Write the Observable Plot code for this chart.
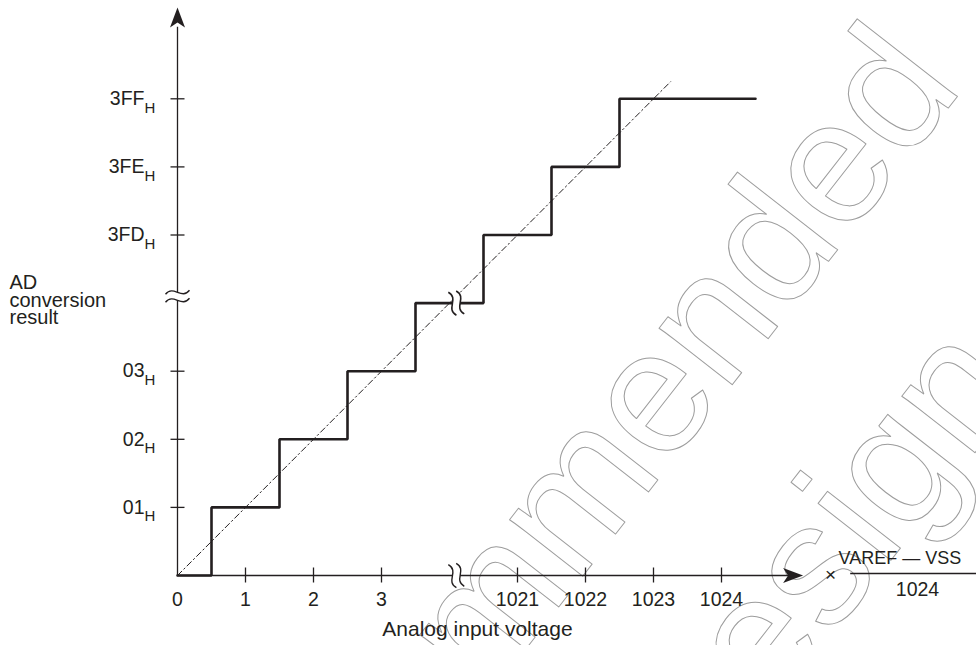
<!DOCTYPE html>
<html>
<head>
<meta charset="utf-8">
<script src="https://cdn.jsdelivr.net/npm/d3@7"></script>
<script src="https://cdn.jsdelivr.net/npm/@observablehq/plot@0.6"></script>
<style>
  html, body { margin: 0; padding: 0; background: #fff; }
  #chart { width: 976px; height: 645px; overflow: hidden; }
</style>
</head>
<body>
<div id="chart"></div>
<script>
// ---- data ----
const xTickValues = [1, 2, 3, 1021, 1022, 1023, 1024];
const xLabelValues = [0, 1, 2, 3, 1021, 1022, 1023, 1024];
const xLabels = ["0", "1", "2", "3", "1021", "1022", "1023", "1024"];
const yTickValues = [1, 2, 3, 1021, 1022, 1023];
const yLabels = ["01", "02", "03", "3FD", "3FE", "3FF"];
// staircase: input voltage (LSB) where the code changes, and the code after it
const stairX = [0, 0.5, 1.5, 2.5, 3.5, 1020.5, 1021.5, 1022.5, 1024.5];
const stairY = [0, 1, 2, 3, 4, 1021, 1022, 1023, 1023];
// ideal conversion line
const idealX = [0, 1023.25];
const idealY = [0, 1023.25];
const breakValue = 1020.1;
const yTitleLines = ["AD", "conversion", "result"];
const watermark = ["Not recommended", "for new design"];

const ink = "#231f20";

// ---- custom symbols (pixel-sized decorations) ----
const arrowUp = {draw(c) { c.moveTo(0, 0); c.lineTo(7.5, 20); c.lineTo(0, 15); c.lineTo(-7.5, 20); c.closePath(); }};
const hTick = {draw(c) { c.moveTo(-7, 0); c.lineTo(7, 0); }};
const vTick = {draw(c) { c.moveTo(0, -8); c.lineTo(0, 7); }};
function wave(c, y0, back) {
  if (!back) { c.moveTo(-12, y0 + 2); c.bezierCurveTo(-4, y0 - 8, 4, y0 + 8, 12, y0 - 2); }
  else { c.lineTo(12, y0 - 2); c.bezierCurveTo(4, y0 + 8, -4, y0 - 8, -12, y0 + 2); }
}
const breakFill = {draw(c) { wave(c, -4, false); wave(c, 4, true); c.closePath(); }};
const breakLines = {draw(c) { wave(c, -4, false); wave(c, 4, false); }};

const font = "Liberation Sans, Arial, Helvetica, sans-serif";
const wmStyle = {text: d => d, rotate: -52, textAnchor: "end", lineAnchor: "bottom", fontSize: 175,
  fill: "none", stroke: "#9d9d9d", strokeWidth: 1, frameAnchor: "top-left"};

const plot = Plot.plot({
  width: 976,
  height: 645,
  margin: 0,
  x: {type: "linear", domain: [0, 4, 1020, 1026], range: [177, 449, 449, 857], axis: null},
  y: {type: "linear", domain: [0, 4, 1020, 1025], range: [575, 302.6, 302.6, -37.9], axis: null},
  style: {fontFamily: font, color: ink, background: "#fff", overflow: "visible"},
  marks: [
    // watermark (outlined text)
    Plot.text([watermark[0]], {...wmStyle, dx: 964, dy: 87}),
    Plot.text([watermark[1]], {...wmStyle, dx: 1027, dy: 385}),

    // ideal line
    Plot.line(idealX, {x: idealX, y: idealY, stroke: ink, strokeWidth: 1, strokeDasharray: "6,3,1.5,3"}),

    // axes
    Plot.ruleX([0], {y1: 0, y2: 1024.05, stroke: ink, strokeWidth: 1.3}),
    Plot.ruleY([0], {x1: 0, x2: 1025, stroke: ink, strokeWidth: 1.3}),
    Plot.dot(yTickValues, {x: 0, y: d => d, symbol: hTick, fill: "none", stroke: ink, strokeWidth: 1.3}),
    Plot.dot(xTickValues, {x: d => d, y: 0, symbol: vTick, fill: "none", stroke: ink, strokeWidth: 1.3}),

    // staircase
    Plot.line(stairX, {x: stairX, y: stairY, curve: "step-after", stroke: ink, strokeWidth: 2.6, strokeLinejoin: "miter"}),

    // axis breaks
    Plot.dot([0], {x: 0, y: breakValue, symbol: breakFill, fill: "#fff", stroke: "none"}),
    Plot.dot([0], {x: 0, y: breakValue, symbol: breakLines, fill: "none", stroke: ink, strokeWidth: 1.4}),
    Plot.dot([0], {x: breakValue, y: 0, symbol: breakFill, rotate: 80, fill: "#fff", stroke: "none"}),
    Plot.dot([0], {x: breakValue, y: 0, symbol: breakLines, rotate: 80, fill: "none", stroke: ink, strokeWidth: 1.4}),
    Plot.dot([0], {x: breakValue, y: 1020, symbol: breakFill, rotate: 80, fill: "#fff", stroke: "none"}),
    Plot.dot([0], {x: breakValue, y: 1020, symbol: breakLines, rotate: 80, fill: "none", stroke: ink, strokeWidth: 1.6}),

    // arrowheads
    Plot.dot([0], {x: 0, y: 1024.34, symbol: arrowUp, fill: ink, stroke: "none"}),
    Plot.dot([0], {x: 1025.2, y: 0, symbol: arrowUp, rotate: 90, fill: ink, stroke: "none"}),

    // tick labels
    Plot.text(yTickValues, {x: 0, y: d => d, text: (d, i) => yLabels[i], textAnchor: "end", dx: -33, fontSize: 19.5, fill: ink}),
    Plot.text(yTickValues, {x: 0, y: d => d, text: () => "H", textAnchor: "start", dx: -33, dy: 9, fontSize: 15, fill: ink}),
    Plot.text(xLabelValues, {x: d => d, y: 0, text: (d, i) => xLabels[i], dy: 24, fontSize: 19.5, fill: ink}),

    // axis titles
    Plot.text(["Analog input voltage"], {frameAnchor: "top-left", dx: 477, dy: 635, text: d => d,
      textAnchor: "middle", lineAnchor: "bottom", fontSize: 21, fill: ink}),
    Plot.text([yTitleLines[0]], {frameAnchor: "top-left", dx: 9, dy: 288, text: d => d, textAnchor: "start", lineAnchor: "bottom", fontSize: 20, fill: ink}),
    Plot.text([yTitleLines[1]], {frameAnchor: "top-left", dx: 9, dy: 306, text: d => d, textAnchor: "start", lineAnchor: "bottom", fontSize: 20, fill: ink}),
    Plot.text([yTitleLines[2]], {frameAnchor: "top-left", dx: 9, dy: 323, text: d => d, textAnchor: "start", lineAnchor: "bottom", fontSize: 20, fill: ink}),

    // unit: x (VAREF - VSS)/1024
    Plot.text(["×"], {frameAnchor: "top-left", dx: 830, dy: 580, text: d => d, textAnchor: "middle", lineAnchor: "bottom", fontSize: 19, fill: ink}),
    Plot.text(["VAREF — VSS"], {frameAnchor: "top-left", dx: 838, dy: 563, text: d => d, textAnchor: "start",
      lineAnchor: "bottom", fontSize: 18, fill: ink}),
    Plot.ruleY([0], {x1: 1025.9, x2: 1028, dy: -2, stroke: ink, strokeWidth: 1.3}),
    Plot.text(["1024"], {frameAnchor: "top-left", dx: 917, dy: 595, text: d => d, textAnchor: "middle", lineAnchor: "bottom", fontSize: 19.5, fill: ink})
  ]
});

document.getElementById("chart").appendChild(plot);
</script>
</body>
</html>
